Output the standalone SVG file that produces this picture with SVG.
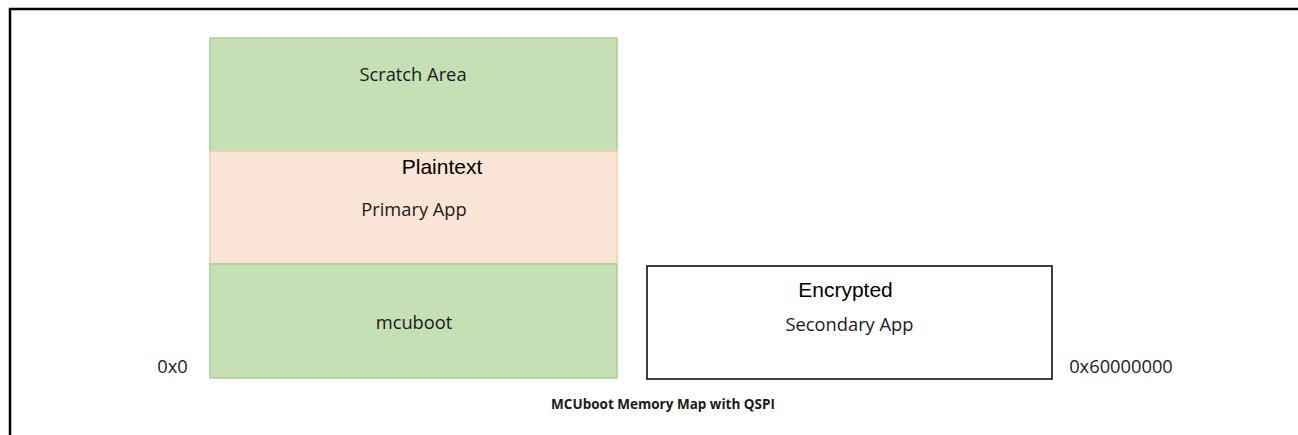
<svg xmlns="http://www.w3.org/2000/svg" width="1298" height="435" viewBox="0 0 1298 435">
<style>
.c{font-family:"Open Sans","Liberation Sans",sans-serif;font-size:18.3px;fill:#1a1a1a;text-anchor:middle}
.a{font-family:"Liberation Sans",Arial,sans-serif;font-size:21px;fill:#000;text-anchor:middle}
.g{fill:#C5E0B4;stroke:#A9D18E;stroke-width:1.5}
.p{fill:#FBE5D6;stroke:#F8CBAD;stroke-width:1.5}
</style>
<rect width="1298" height="435" fill="#fff"/>
<path d="M10 435 V9 H1298" fill="none" stroke="#000" stroke-width="2.5"/>
<g id="scratch"><rect class="g" x="210" y="38" width="407" height="113"/><text class="c" x="413" y="81">Scratch Area</text></g>
<g id="primary"><rect class="p" x="210" y="151" width="407" height="113"/><text class="a" x="442" y="174">Plaintext</text><text class="c" x="414" y="216">Primary App</text></g>
<g id="mcuboot"><rect class="g" x="210" y="264" width="407" height="114"/><text class="c" x="414" y="329">mcuboot</text></g>
<g id="secondary"><rect x="647" y="266" width="405" height="113" fill="#fff" stroke="#000" stroke-width="1.5"/><text class="a" x="845.5" y="297">Encrypted</text><text class="c" x="849.5" y="331">Secondary App</text></g>
<g id="labels"><text class="c" x="172.5" y="373">0x0</text><text class="c" x="1121" y="373">0x60000000</text>
<text x="663" y="409" font-family="Open Sans,Liberation Sans,sans-serif" font-size="13.5" font-weight="bold" fill="#1a1a1a" text-anchor="middle">MCUboot Memory Map with QSPI</text></g>
<g id="connectors"/>
</svg>
